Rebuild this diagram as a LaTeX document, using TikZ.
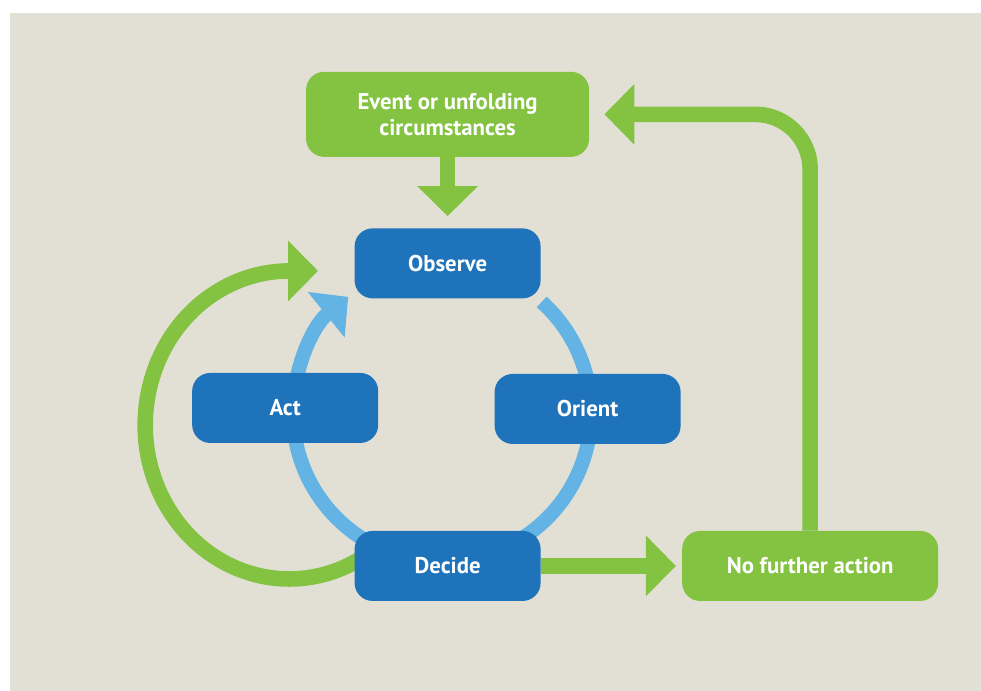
\documentclass[tikz,border=0pt]{standalone}
\usepackage{fontspec}
\setmainfont{PT Sans}
\usetikzlibrary{shapes, arrows.meta, positioning, calc, backgrounds}
\definecolor{paper}{RGB}{226,224,212}
\definecolor{oodablue}{RGB}{30,115,186}
\definecolor{ringblue}{RGB}{99,180,228}
\definecolor{leafgreen}{RGB}{132,194,65}
\tikzstyle{stepbox} = [rectangle, rounded corners=0.45cm, minimum width=4.65cm, minimum height=1.75cm, inner sep=0pt, text centered, text=white, fill=oodablue, font=\fontsize{16.2}{18.5}\selectfont\bfseries]
\tikzstyle{outcome} = [stepbox, fill=leafgreen]
\tikzstyle{ringline} = [line width=0.36cm, color=ringblue]
\tikzstyle{flowline} = [line width=0.39cm, color=leafgreen]
\tikzstyle{bigtip} = [-{Triangle[length=0.75cm, width=1.475cm]}]
\tikzstyle{ringtip} = [-{Triangle[length=0.71cm, width=1.425cm]}]
\pgfdeclarelayer{links}
\pgfsetlayers{background,links,main}

\begin{document}
\begin{tikzpicture}

\useasboundingbox (0,0) rectangle (24.525,17.275);

\node (observe) [stepbox] at (11.19,10.69) {Observe};
\node (event) [outcome, above=1.775cm of observe, minimum width=7.075cm, minimum height=2.125cm, align=center] {Event or unfolding\\circumstances};
\node (decide) [stepbox, below=5.8cm of observe] {Decide};
\node (act) [stepbox, below=1.85cm of observe, xshift=-4.06cm] {Act};
\node (orient) [stepbox, below=1.875cm of observe, xshift=3.5cm] {Orient};
\node (nofurther) [outcome, right=3.525cm of decide, minimum width=6.4cm] {No further action};

\coordinate (ring) at ($(observe)!0.5!(decide) + (-0.14,0.05)$);
\coordinate (loop) at ($(act) + (0.1,-0.425)$);

\begin{pgfonlayer}{background}
\fill [paper] (0.25,0) rectangle (24.525,16.95);
\end{pgfonlayer}

\begin{pgfonlayer}{links}
% the OODA ring
\draw [ringline] ($(ring)+(48:3.725)$) arc [start angle=48, end angle=-60, radius=3.725];
\draw [ringline, ringtip] ($(ring)+(240:3.725)$) arc [start angle=240, end angle=129, radius=3.725];
% green loop back from decide
\draw [flowline, bigtip] ($(loop)+(-55:3.6 and 3.85)$) arc [start angle=-55, end angle=-270, x radius=3.6, y radius=3.85] -- ++(0.72,0);
\draw [flowline, bigtip] (event.south) -- ([yshift=0.3cm]observe.north);
\draw [flowline, bigtip] (decide.east) -- ([xshift=-0.15cm]nofurther.west);
\draw [flowline, bigtip, rounded corners=1.375cm] (nofurther.north) |- ([xshift=0.375cm]event.east);
\end{pgfonlayer}

\end{tikzpicture}
\end{document}
